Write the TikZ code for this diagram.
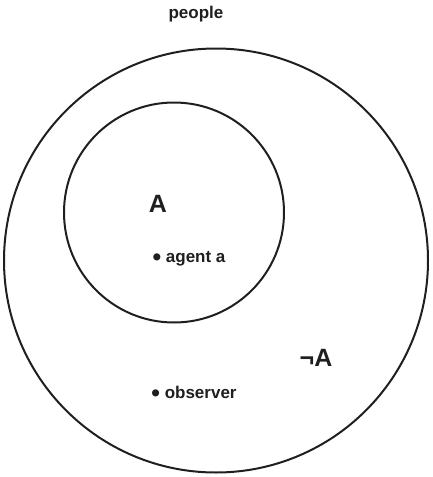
\documentclass[tikz,border=0pt]{standalone}
\usepackage{fontspec}
\usepackage{graphicx}
\setmainfont{Liberation Sans}
\newcommand{\bigbul}{\raisebox{-0.35ex}{\scalebox{1.45}{\textbullet}}}
\begin{document}
\begin{tikzpicture}[x=1pt,y=-1pt,
  ring/.style={draw=black!88,line width=2pt},
  lbl/.style={font=\bfseries\fontsize{17}{19}\selectfont,text=black!88,inner sep=0pt,anchor=base},
  big/.style={font=\bfseries\fontsize{25}{27}\selectfont,text=black!88,inner sep=0pt}]
\useasboundingbox (0,0) rectangle (433,477);
\node[ring,circle,minimum size=424pt,inner sep=0pt] (outer) at (216,260.5) {};
\node[ring,circle,minimum size=220pt,inner sep=0pt] (inner) at (174,212.5) {};
\node[lbl] (people) at (196,18) {people};
\node[big] (A) at (158,204) {A};
\node[lbl] (agent) at (189,262) {\bigbul\ agent a};
\node[big] (notA) at (316,358) {¬A};
\node[lbl] (obs) at (194,398) {\bigbul\ observer};
\end{tikzpicture}
\end{document}
